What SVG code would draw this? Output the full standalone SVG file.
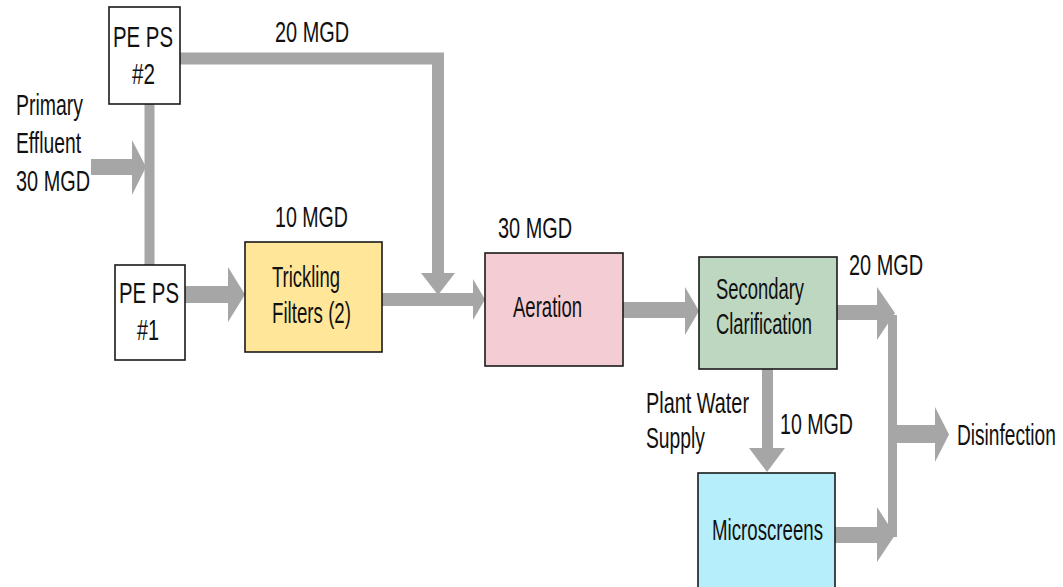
<svg xmlns="http://www.w3.org/2000/svg" width="1063" height="587" viewBox="0 0 1063 587">
<style>
.bg{fill:#ffffff}
.box{stroke:#1a1a1a;stroke-width:1.6}
.t{font-family:"Liberation Sans",Arial,sans-serif;font-size:29px;fill:#111111}
.sh{fill:none;stroke:#a6a6a6;stroke-linejoin:miter;stroke-linecap:butt}
.hd{fill:#a6a6a6}
</style>
<rect class="bg" x="0" y="0" width="1063" height="587"/>
<g id="connectors">
  <!-- Primary effluent inlet -->
  <path class="sh" d="M91 167 H133" stroke-width="16"/>
  <polygon class="hd" points="132,140 146,167 132,195"/>
  <!-- PS2 to PS1 vertical -->
  <path class="sh" d="M149.5 104 V265" stroke-width="10"/>
  <!-- PS2 top route to junction -->
  <path class="sh" d="M180 58.5 H438 V274" stroke-width="12"/>
  <polygon class="hd" points="421,273 455,273 438,295"/>
  <!-- PS1 to Trickling -->
  <path class="sh" d="M185 294.5 H229" stroke-width="17"/>
  <polygon class="hd" points="228,267 245,294.5 228,322"/>
  <!-- Trickling to Aeration -->
  <path class="sh" d="M382 299.5 H474" stroke-width="13"/>
  <polygon class="hd" points="473,279 485,299.5 473,320"/>
  <!-- Aeration to Secondary -->
  <path class="sh" d="M623 310 H686" stroke-width="16"/>
  <polygon class="hd" points="685,287 699,311 685,335"/>
  <!-- Secondary to collector -->
  <path class="sh" d="M837 312.5 H878" stroke-width="15"/>
  <polygon class="hd" points="877,287 895,313 877,340"/>
  <!-- collector vertical -->
  <path class="sh" d="M892.5 315 V537" stroke-width="9"/>
  <!-- Secondary to Microscreens -->
  <path class="sh" d="M767.5 369 V449" stroke-width="11"/>
  <polygon class="hd" points="749,448 785,448 767,472"/>
  <!-- Microscreens to collector -->
  <path class="sh" d="M835 535 H878" stroke-width="16"/>
  <polygon class="hd" points="877,507 895,535 877,562"/>
  <!-- collector to Disinfection -->
  <path class="sh" d="M897 434 H936" stroke-width="18"/>
  <polygon class="hd" points="935,407 949,434.5 935,462"/>
</g>
<g id="pe-ps-2">
  <rect class="box" x="109" y="7" width="71" height="97" fill="#ffffff"/>
  <text class="t" x="113" y="47" textLength="60" lengthAdjust="spacingAndGlyphs">PE PS</text>
  <text class="t" x="132" y="84" textLength="23" lengthAdjust="spacingAndGlyphs">#2</text>
</g>
<g id="pe-ps-1">
  <rect class="box" x="115" y="265" width="70" height="95" fill="#ffffff"/>
  <text class="t" x="119" y="303" textLength="60" lengthAdjust="spacingAndGlyphs">PE PS</text>
  <text class="t" x="137" y="340" textLength="22" lengthAdjust="spacingAndGlyphs">#1</text>
</g>
<g id="primary-effluent">
  <text class="t" x="16" y="115" textLength="67" lengthAdjust="spacingAndGlyphs">Primary</text>
  <text class="t" x="16" y="153" textLength="65" lengthAdjust="spacingAndGlyphs">Effluent</text>
  <text class="t" x="16" y="191" textLength="74" lengthAdjust="spacingAndGlyphs">30 MGD</text>
</g>
<g id="trickling-filters">
  <rect class="box" x="245" y="242" width="137" height="110" fill="#ffe699"/>
  <text class="t" x="272" y="287" textLength="68" lengthAdjust="spacingAndGlyphs">Trickling</text>
  <text class="t" x="272" y="323" textLength="79" lengthAdjust="spacingAndGlyphs">Filters (2)</text>
</g>
<g id="aeration">
  <rect class="box" x="485" y="253" width="138" height="113" fill="#f4ccd3"/>
  <text class="t" x="513" y="317" textLength="69" lengthAdjust="spacingAndGlyphs">Aeration</text>
</g>
<g id="secondary-clarification">
  <rect class="box" x="699" y="257" width="138" height="112" fill="#bdd7c0"/>
  <text class="t" x="716" y="299" textLength="88" lengthAdjust="spacingAndGlyphs">Secondary</text>
  <text class="t" x="716" y="334" textLength="96" lengthAdjust="spacingAndGlyphs">Clarification</text>
</g>
<g id="microscreens">
  <rect class="box" x="698" y="473" width="137" height="120" fill="#b7eefb"/>
  <text class="t" x="712" y="540" textLength="111" lengthAdjust="spacingAndGlyphs">Microscreens</text>
</g>
<g id="disinfection">
  <text class="t" transform="translate(957 445) scale(0.66 1)" x="0" y="0">Disinfection</text>
</g>
<g id="labels">
  <text class="t" x="275" y="42" textLength="74" lengthAdjust="spacingAndGlyphs">20 MGD</text>
  <text class="t" x="275" y="227" textLength="73" lengthAdjust="spacingAndGlyphs">10 MGD</text>
  <text class="t" x="498" y="238" textLength="74" lengthAdjust="spacingAndGlyphs">30 MGD</text>
  <text class="t" x="849" y="275" textLength="74" lengthAdjust="spacingAndGlyphs">20 MGD</text>
  <text class="t" x="780" y="434" textLength="73" lengthAdjust="spacingAndGlyphs">10 MGD</text>
  <text class="t" x="646" y="413" textLength="103" lengthAdjust="spacingAndGlyphs">Plant Water</text>
  <text class="t" x="646" y="448" textLength="59" lengthAdjust="spacingAndGlyphs">Supply</text>
</g>
</svg>
